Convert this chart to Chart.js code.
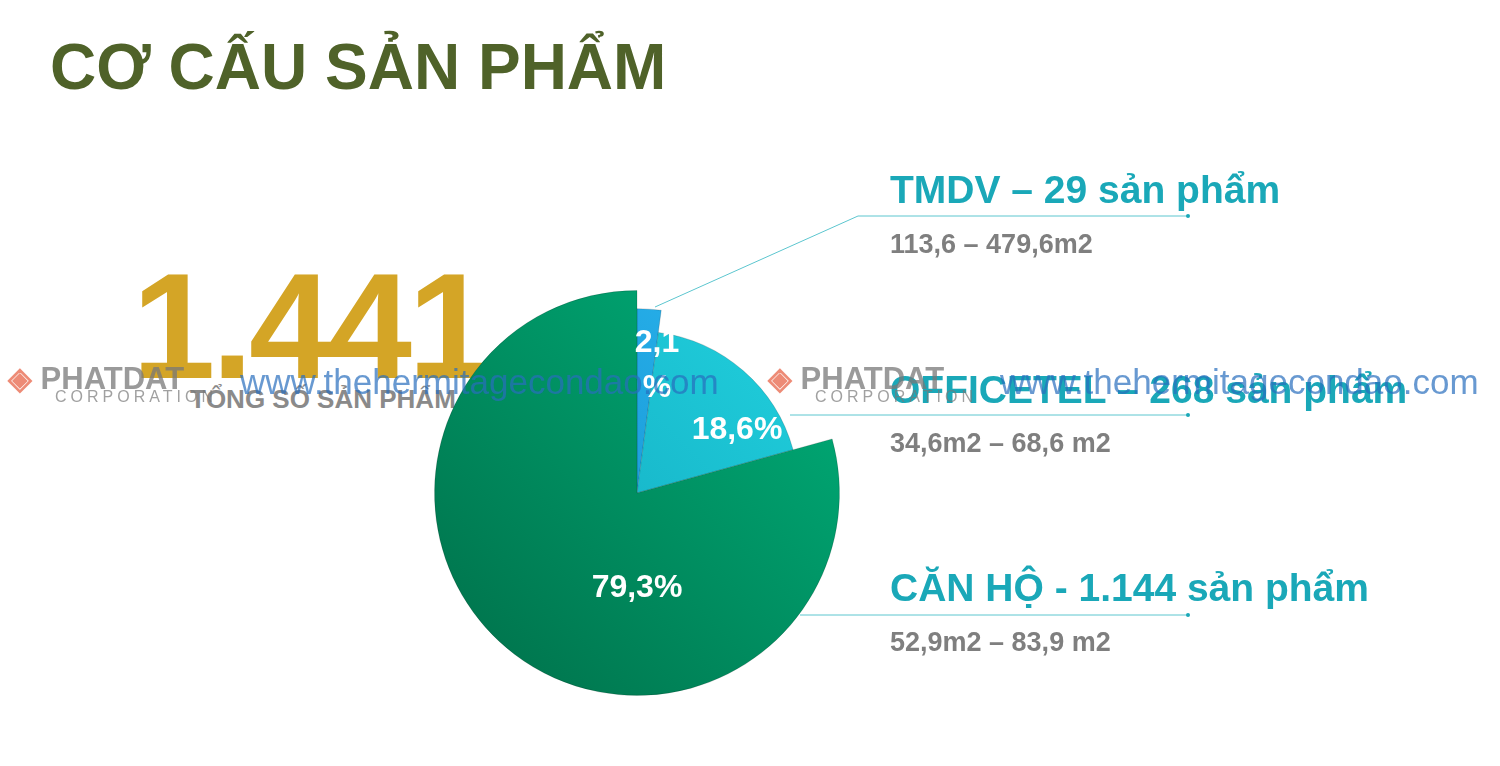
<!DOCTYPE html>
<html><head><meta charset="utf-8">
<script src="https://cdn.jsdelivr.net/npm/chart.js@4"></script>
<style>
body{margin:0;width:1500px;height:766px;background:#fff;font-family:"Liberation Sans",Arial,sans-serif;overflow:hidden;position:relative}
.t{position:absolute;white-space:nowrap}
#c{position:absolute;left:0;top:0}
</style></head><body>
<div class="t" style="left:50px;top:30px;font-size:64px;font-weight:bold;color:#4f6229">CƠ CẤU SẢN PHẨM</div>
<div class="t" style="left:132px;top:240px;font-size:150px;font-weight:bold;color:#d4a526;letter-spacing:-4px">1.441</div>
<div class="t" style="left:190px;top:384px;font-size:26px;font-weight:bold;color:#8a8a8a">TỔNG SỐ SẢN PHẨM</div>
<canvas id="c" width="1500" height="766"></canvas>
<div class="t" style="left:890px;top:168px;font-size:39px;font-weight:bold;color:#1aa8b8">TMDV – 29 sản phẩm</div>
<div class="t" style="left:890px;top:229px;font-size:27px;font-weight:bold;color:#7f7f7f">113,6 – 479,6m2</div>
<div class="t" style="left:890px;top:368px;font-size:39px;font-weight:bold;color:#1aa8b8">OFFICETEL – 268 sản phẩm</div>
<div class="t" style="left:890px;top:428px;font-size:27px;font-weight:bold;color:#7f7f7f">34,6m2 – 68,6 m2</div>
<div class="t" style="left:890px;top:566px;font-size:39px;font-weight:bold;color:#1aa8b8">CĂN HỘ - 1.144 sản phẩm</div>
<div class="t" style="left:890px;top:627px;font-size:27px;font-weight:bold;color:#7f7f7f">52,9m2 – 83,9 m2</div>
<div class="t" style="left:8px;top:360px;font-size:31px;font-weight:bold;color:rgba(120,120,120,0.75)"><span style="color:rgba(230,90,60,0.7)">◈</span> PHATDAT</div>
<div class="t" style="left:55px;top:388px;font-size:16px;letter-spacing:4px;color:rgba(120,120,120,0.7)">CORPORATION</div>
<div class="t" style="left:240px;top:362px;font-size:35px;color:rgba(40,110,190,0.7)">www.thehermitagecondao.com</div>
<div class="t" style="left:768px;top:360px;font-size:31px;font-weight:bold;color:rgba(120,120,120,0.75)"><span style="color:rgba(230,90,60,0.7)">◈</span> PHATDAT</div>
<div class="t" style="left:815px;top:388px;font-size:16px;letter-spacing:4px;color:rgba(120,120,120,0.7)">CORPORATION</div>
<div class="t" style="left:1000px;top:362px;font-size:35px;color:rgba(40,110,190,0.7)">www.thehermitagecondao.com</div>
<script>
var categories = ["TMDV", "OFFICETEL", "CĂN HỘ"];
var shares = [2.1, 18.6, 79.3];
var shareLabels = ["2,1\n%", "18,6%", "79,3%"];
var radiusScale = [0.91, 0.8, 1];

var radiusPlugin = {
    id: "radii",
    beforeDatasetsDraw: function (chart) {
        var meta = chart.getDatasetMeta(0);
        meta.data.forEach(function (arc, i) {
            arc.outerRadius = arc.outerRadius * radiusScale[i] / (arc._s || 1);
            arc._s = radiusScale[i];
        });
    },
    afterDraw: function (chart) {
        var ctx = chart.ctx;
        ctx.save();
        ctx.strokeStyle = "#5cc6cf";
        ctx.lineWidth = 1;
        var lines = [[[655, 307], [858, 216], [1188, 216]], [[790, 415], [1188, 415]], [[800, 615], [1188, 615]]];
        lines.forEach(function (l) {
            ctx.beginPath();
            ctx.moveTo(l[0][0], l[0][1]);
            for (var k = 1; k < l.length; k++) ctx.lineTo(l[k][0], l[k][1]);
            ctx.stroke();
            var e = l[l.length - 1];
            ctx.fillStyle = "#1aa8b8";
            ctx.beginPath(); ctx.arc(e[0], e[1], 2, 0, 7); ctx.fill();
        });
        ctx.fillStyle = "#fff";
        ctx.font = "bold 32px 'Liberation Sans', Arial";
        ctx.textAlign = "center";
        ctx.textBaseline = "middle";
        var pos = [[657, 343], [737, 430], [637, 588]];
        shareLabels.forEach(function (s, i) {
            s.split("\n").forEach(function (p, j) {
                ctx.fillText(p, pos[i][0], pos[i][1] + j * 45);
            });
        });
        ctx.restore();
    }
};

new Chart(document.getElementById("c"), {
    type: "pie",
    data: {
        labels: categories,
        datasets: [{
            data: shares,
            backgroundColor: function (c) {
                var area = c.chart.chartArea;
                if (!area) return "#00a272";
                var g = c.chart.ctx.createLinearGradient(area.right, area.top, area.left, area.bottom);
                if (c.dataIndex === 2) { g.addColorStop(0, "#00b07a"); g.addColorStop(1, "#006e48"); }
                else if (c.dataIndex === 1) { g.addColorStop(0, "#22d4e0"); g.addColorStop(1, "#0f9fb8"); }
                else { g.addColorStop(0, "#2cb8f0"); g.addColorStop(1, "#0e86c8"); }
                return g;
            },
            borderColor: "rgba(0,0,0,0.15)",
            borderWidth: 1
        }]
    },
    options: {
        responsive: false,
        animation: false,
        layout: { padding: { left: 434, right: 660, top: 290, bottom: 70 } },
        plugins: { legend: { display: false }, tooltip: { enabled: false } }
    },
    plugins: [radiusPlugin]
});
</script>
</body></html>
